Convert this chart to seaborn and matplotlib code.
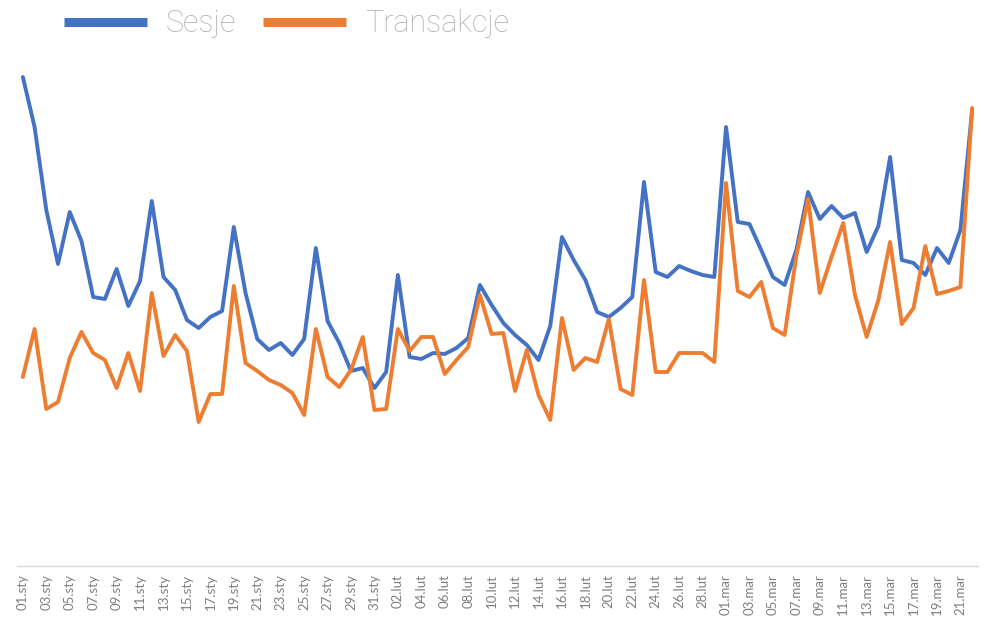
import matplotlib
matplotlib.use('Agg')
import matplotlib.pyplot as plt
from matplotlib.lines import Line2D
import seaborn as sns
import pandas as pd

# 01.sty 2020 .. 22.mar 2020, one point per day
dates = pd.date_range('2020-01-01', '2020-03-22', freq='D')
month_names = {1: 'sty', 2: 'lut', 3: 'mar'}

sesje = [489, 439, 356, 302, 354, 325, 269, 267, 297, 260, 285, 365, 289, 276, 246, 238,
         249, 255, 339, 273, 227, 216, 223, 211, 227, 318, 245, 223, 195, 198, 178, 194,
         291, 209, 207, 213, 212, 218, 228, 281, 261, 243, 231, 221, 206, 240, 329, 306,
         286, 254, 249, 258, 269, 384, 294, 289, 300, 295, 291, 289, 439, 344, 342, 316,
         289, 281, 316, 374, 347, 360, 348, 353, 314, 340, 409, 306, 303, 291, 318, 303,
         336, 456]

transakcje = [189, 237, 157, 164, 208, 234, 213, 206, 178, 213, 175, 273, 210, 231, 215, 144,
              172, 172, 280, 203, 195, 186, 181, 173, 151, 237, 189, 179, 196, 229, 156, 157,
              237, 215, 229, 229, 192, 206, 219, 271, 232, 233, 175, 216, 171, 146, 248, 196,
              208, 204, 247, 177, 171, 286, 194, 194, 213, 213, 213, 204, 383, 275, 269, 284,
              238, 231, 310, 367, 273, 309, 343, 271, 229, 266, 324, 242, 258, 320, 272, 275,
              279, 458]

series_names = ['Sesje', 'Transakcje']
colors = ['#4472C4', '#ED7D31']

day_labels = [f'{d.day:02d}.{month_names[d.month]}' for d in dates]

df = pd.DataFrame({
    'idx': list(range(len(dates))) * 2,
    'value': sesje + transakcje,
    'seria': [series_names[0]] * len(sesje) + [series_names[1]] * len(transakcje),
})

sns.set_style('white')
plt.rcParams['font.family'] = ['Lato', 'DejaVu Sans']

fig = plt.figure(figsize=(9.85, 6.22), dpi=100)
ax = fig.add_axes([17 / 985, 1 - 566 / 622, 961 / 985, 506 / 622])

sns.lineplot(data=df, x='idx', y='value', hue='seria', palette=colors,
             linewidth=2.8, legend=False, ax=ax)

ax.set_xlim(-0.5, len(dates) - 0.5)
ax.set_ylim(0, 506)
ax.set_xlabel('')
ax.set_ylabel('')
ax.set_yticks([])
tick_pos = list(range(0, len(dates), 2))
ax.set_xticks(tick_pos)
ax.set_xticklabels([day_labels[i] for i in tick_pos], rotation=90,
                   fontsize=9.5, color='#7f7f7f')
ax.tick_params(axis='x', length=0, pad=6)
for side in ['top', 'left', 'right']:
    ax.spines[side].set_visible(False)
ax.spines['bottom'].set_color('#d9d9d9')
ax.spines['bottom'].set_linewidth(1)

handles = [Line2D([], [], color=c, linewidth=6.5, solid_capstyle='butt') for c in colors]
leg = fig.legend(handles, series_names, loc='center left',
                 bbox_to_anchor=(64 / 985, 1 - 24 / 622), ncol=2, frameon=False,
                 prop={'family': ['Roboto', 'DejaVu Sans'], 'weight': 'light', 'size': 22},
                 handlelength=2.7, handletextpad=0.62, columnspacing=0.9,
                 borderaxespad=0, borderpad=0)
for t in leg.get_texts():
    t.set_color('#b0b0b0')

fig.savefig('out.png', dpi=100)
